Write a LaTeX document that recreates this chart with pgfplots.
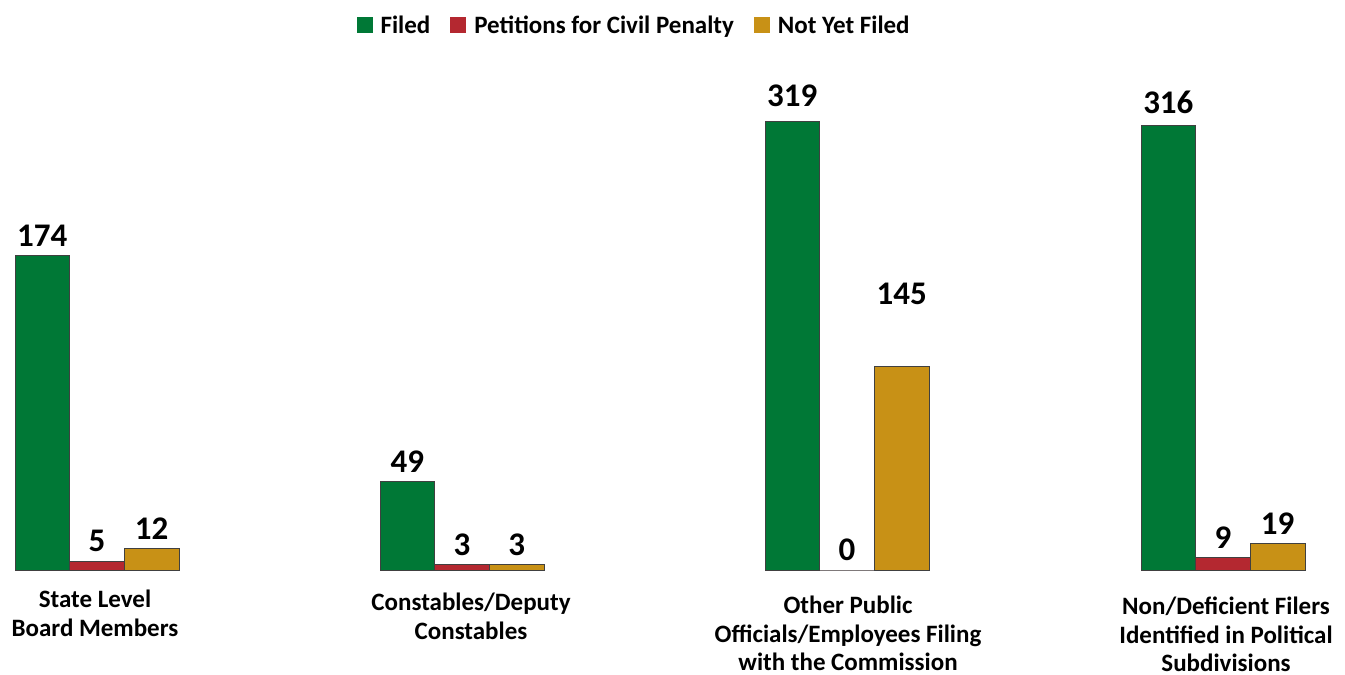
\documentclass[border=0pt]{standalone}
\usepackage{pgfplots}
\pgfplotsset{compat=1.18}
\usepackage{fontspec}
\setmainfont{Carlito}
\definecolor{cgreen}{RGB}{0,120,54}
\definecolor{cred}{RGB}{180,40,48}
\definecolor{cgold}{RGB}{200,145,22}
\pgfplotsset{
  grp/.style={
    scale only axis, width=164pt, height=450pt,
    anchor=south west, clip=false,
    ybar=0pt, bar width=54.67pt,
    xmin=-1, xmax=1, ymin=0,
    axis lines=none, ticks=none,
    /pgf/number format/assume math mode=true,
    nodes near coords,
    every node near coord/.append style={font=\fontsize{33}{36}\selectfont\bfseries, text=black, inner sep=8.5pt},
    legend image code/.code={\fill[##1,draw=none] (0pt,-8pt) rectangle (16pt,8pt);},
  },
  sg/.style={fill=cgreen, draw=black!75, line width=0.8pt},
  sr/.style={fill=cred, draw=black!75, line width=0.8pt},
  sy/.style={fill=cgold, draw=black!75, line width=0.8pt},
}
\tikzset{lbl/.style={anchor=north, align=center, inner sep=0pt, font=\fontsize{25}{28.5}\selectfont\bfseries}}
\begin{document}
\begin{tikzpicture}
\path[use as bounding box] (0,0) rectangle (1345pt,675pt);
% Group 1
\begin{axis}[grp, at={(15pt,105pt)}, ymax=249,
  legend columns=3,
  legend style={at={(axis description cs:3.775,1.211)}, anchor=center, draw=none, fill=none,
    font=\fontsize{25}{29}\selectfont\bfseries,
    nodes={inner sep=2pt},
    /tikz/every even column/.append style={column sep=18pt},
    /tikz/every odd column/.append style={column sep=6pt}}]
\addplot[sg] coordinates {(0,174)};
\addplot[sr] coordinates {(0,5)};
\addplot[sy] coordinates {(0,12)};
\legend{Filed, Petitions for Civil Penalty, Not Yet Filed}
\node[lbl, xshift=-2pt, yshift=-20pt] at (axis cs:0,0) {State Level\\Board Members};
\end{axis}
% Group 2
\begin{axis}[grp, at={(380pt,105pt)}, ymax=249]
\addplot[sg] coordinates {(0,49)};
\addplot[sr] coordinates {(0,3)};
\addplot[sy] coordinates {(0,3)};
\node[lbl, xshift=9pt, yshift=-23pt] at (axis cs:0,0) {Constables/Deputy\\Constables};
\end{axis}
% Group 3
\begin{axis}[grp, at={(765pt,105pt)}, ymax=319.7]
\addplot[sg, every node near coord/.append style={yshift=5pt}] coordinates {(0,319)};
\addplot[sr] coordinates {(0,0)};
\addplot[sy, every node near coord/.append style={yshift=52pt}] coordinates {(0,145)};
\node[lbl, xshift=1pt, yshift=-26pt] at (axis cs:0,0) {Other Public\\Officials/Employees Filing\\with the Commission};
\end{axis}
% Group 4
\begin{axis}[grp, at={(1141pt,105pt)}, ymax=319.7]
\addplot[sg, every node near coord/.append style={yshift=3pt}] coordinates {(0,316)};
\addplot[sr] coordinates {(0,9)};
\addplot[sy] coordinates {(0,19)};
\node[lbl, xshift=3pt, yshift=-27pt] at (axis cs:0,0) {Non/Deficient Filers\\Identified in Political\\Subdivisions};
\end{axis}
\end{tikzpicture}
\end{document}
